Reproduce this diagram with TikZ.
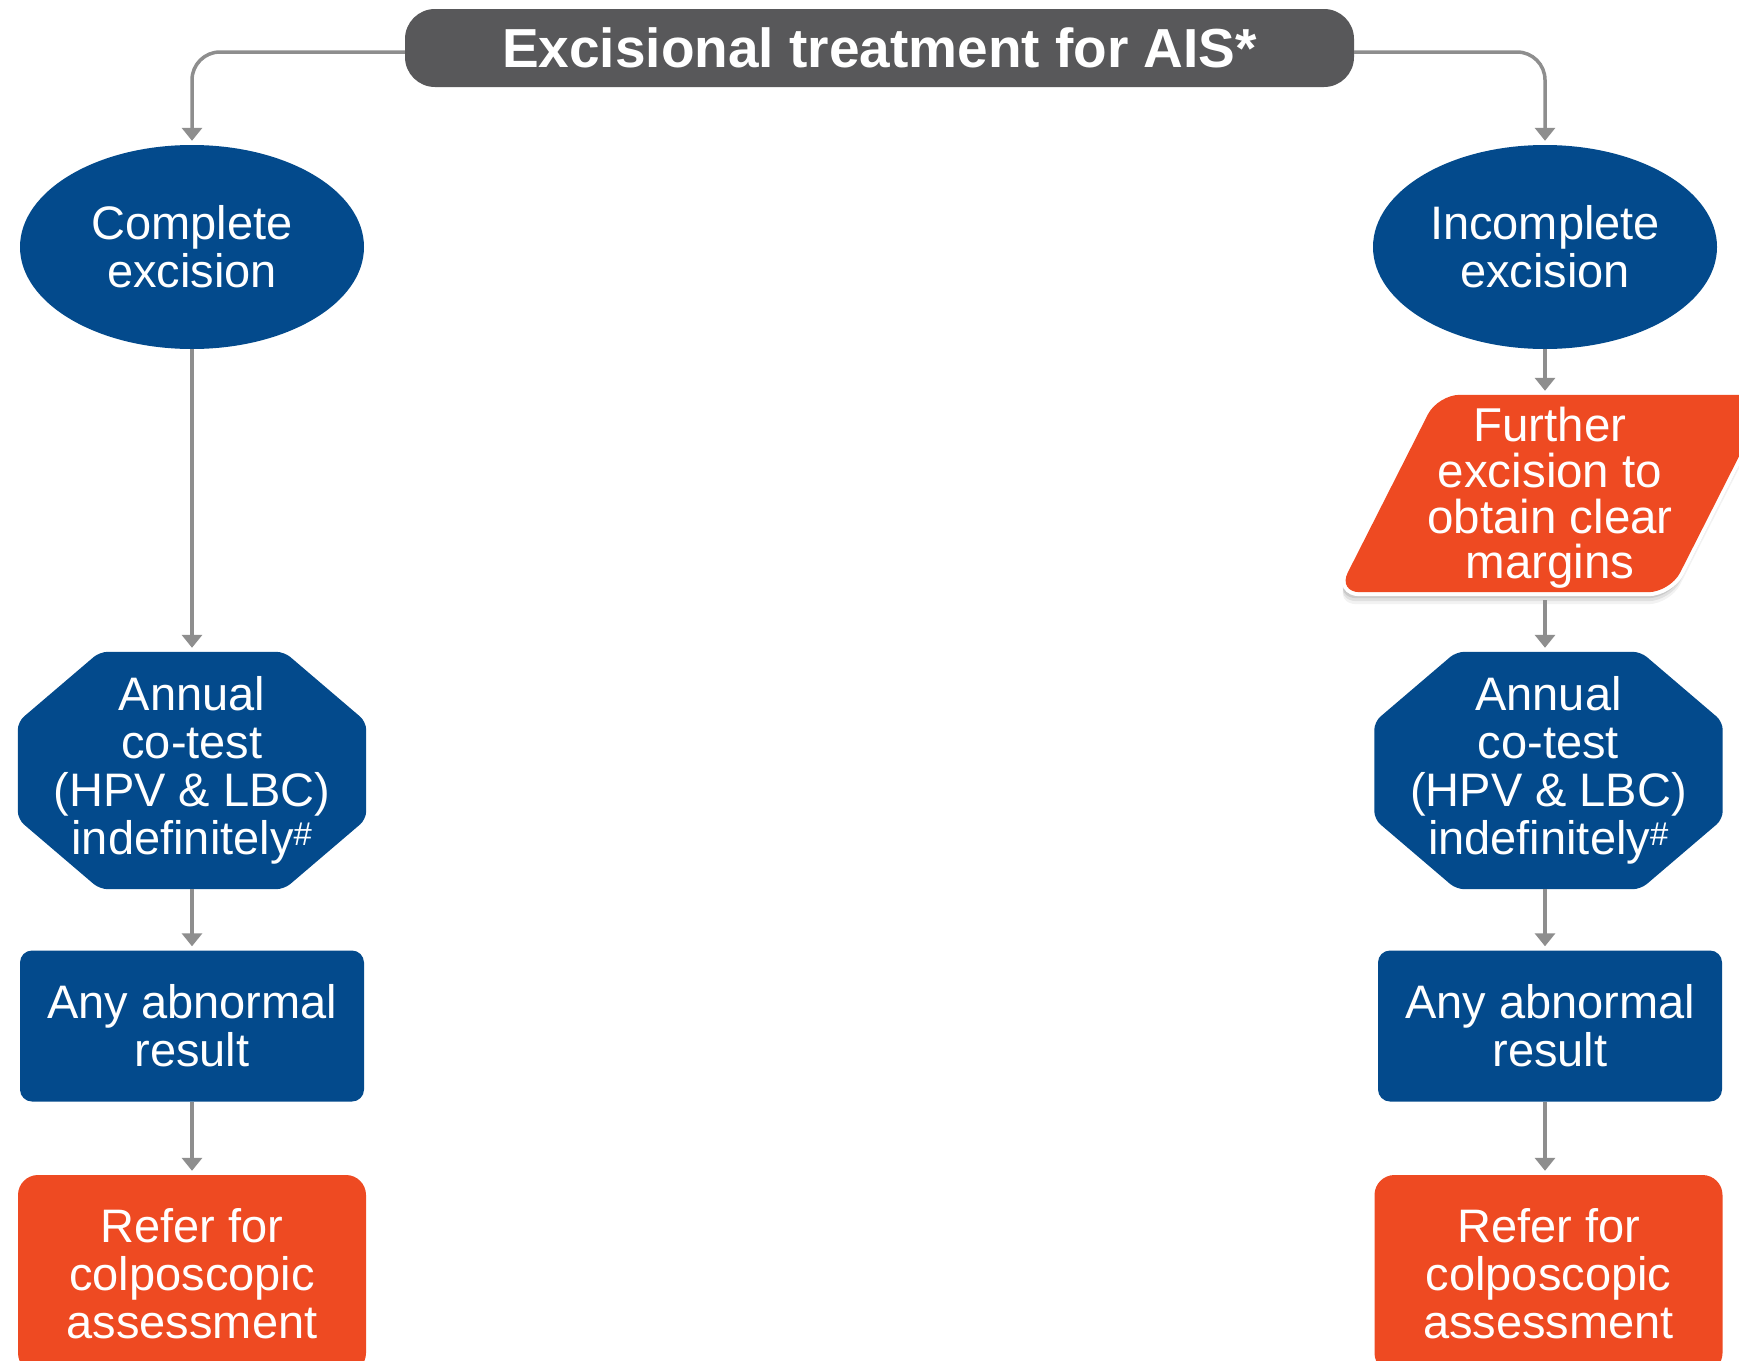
\documentclass[tikz,border=0pt]{standalone}
\usepackage{fontspec}
\setmainfont{Liberation Sans}
\usetikzlibrary{shapes.geometric,arrows.meta,backgrounds}
\definecolor{nblue}{HTML}{034A8C}
\definecolor{norange}{HTML}{EE4A22}
\definecolor{ngray}{HTML}{58585A}
\definecolor{lgray}{HTML}{8E8E8E}
\newcommand\octfill[1]{%
  \fill[nblue, rounded corners=8pt]
    ([xshift=82pt]#1.north west) -- ([xshift=-82pt]#1.north east) --
    ([yshift=-70pt]#1.north east) -- ([yshift=70pt]#1.south east) --
    ([xshift=-82pt]#1.south east) -- ([xshift=82pt]#1.south west) --
    ([yshift=70pt]#1.south west) -- ([yshift=-70pt]#1.north west) -- cycle;}
\begin{document}
\begin{tikzpicture}[x=1pt,y=-1pt,
  txt/.style={text=white, align=center, font=\fontsize{47}{48}\selectfont},
  ell/.style={ellipse, fill=nblue, minimum width=344pt, minimum height=204pt, inner sep=0pt, txt},
  octbox/.style={rectangle, minimum width=348pt, minimum height=237pt, inner sep=0pt, txt},
  bluebox/.style={rectangle, rounded corners=12pt, fill=nblue, minimum width=344pt, minimum height=151pt, inner sep=0pt, txt},
  refbox/.style={rectangle, rounded corners=20pt, fill=norange, minimum width=348pt, minimum height=198pt, inner sep=0pt, txt},
  parabox/.style={rectangle, minimum width=432pt, minimum height=197pt, inner sep=0pt, txt, font=\fontsize{47.5}{45.8}\selectfont},
  conn/.style={draw=lgray, line width=3.5pt, -{Triangle[width=20pt,length=13pt]}, shorten >=4pt, rounded corners=28pt}]
\useasboundingbox (0,0) rectangle (1739,1360);

% title
\node[fill=ngray, rounded corners=30pt, minimum width=949pt, minimum height=78pt,
      inner sep=0pt, text=white, font=\bfseries\fontsize{55}{60}\selectfont]
      (title) at (879.5,48) {Excisional treatment for AIS*};

% left column
\node[ell] (e1) at (192,247) {Complete\\excision};
\node[octbox] (o1) at (192,770.5) {Annual\\co-test\\(HPV \& LBC)\\indefinitely\textsuperscript{\#}};
\node[bluebox] (a1) at (192,1026) {Any abnormal\\result};
\node[refbox] (r1) at (192,1274) {Refer for\\colposcopic\\assessment};

% right column
\node[ell] (e2) at (1545,247) {Incomplete\\excision};
\node[parabox] (p) at (1554,493.5) {};
\node[txt, font=\fontsize{47.5}{45.8}\selectfont] (pt) at (1550,498) {Further\\excision to\\obtain clear\\margins};
\node[octbox] (o2) at (1548.5,770.5) {Annual\\co-test\\(HPV \& LBC)\\indefinitely\textsuperscript{\#}};
\node[bluebox] (a2) at (1550,1026) {Any abnormal\\result};
\node[refbox] (r2) at (1548.5,1274) {Refer for\\colposcopic\\assessment};

\begin{scope}[on background layer]
  \fill[white] (0,0) rectangle (1739,1360);
  \octfill{o1}
  \octfill{o2}
  % parallelogram shadow
  \foreach \s/\o in {12/0.05,9/0.07,6/0.09,3/0.10}{
    \fill[black, opacity=\o, rounded corners=22pt]
      ([xshift=-3pt,yshift=-\s pt]p.south west) -- ([xshift=-100pt,yshift=-\s pt]p.south east) --
      ([yshift=-\s pt]p.north east) -- ([xshift=100pt,yshift=-\s pt]p.north west) -- cycle;}
  \draw[white, line width=8pt, rounded corners=22pt]
      (p.south west) -- ([xshift=-100pt]p.south east) --
      (p.north east) -- ([xshift=100pt]p.north west) -- cycle;
  \fill[norange, rounded corners=22pt]
      (p.south west) -- ([xshift=-100pt]p.south east) --
      (p.north east) -- ([xshift=100pt]p.north west) -- cycle;
\end{scope}

% connectors
\draw[conn] ([yshift=-4pt]title.west) -| (e1.north);
\draw[conn] ([yshift=-4pt]title.east) -| (e2.north);
\draw[conn] (e1.south) -- (o1.north);
\draw[conn] (o1.south) -- (a1.north);
\draw[conn] (a1.south) -- (r1.north);
\draw[conn] (e2.south) -- (e2.south |- p.north);
\draw[conn] ([yshift=-8pt]e2.south |- p.south) -- (e2.south |- o2.north);
\draw[conn] (e2.south |- o2.south) -- (e2.south |- a2.north);
\draw[conn] (e2.south |- a2.south) -- (e2.south |- r2.north);
\end{tikzpicture}
\end{document}
